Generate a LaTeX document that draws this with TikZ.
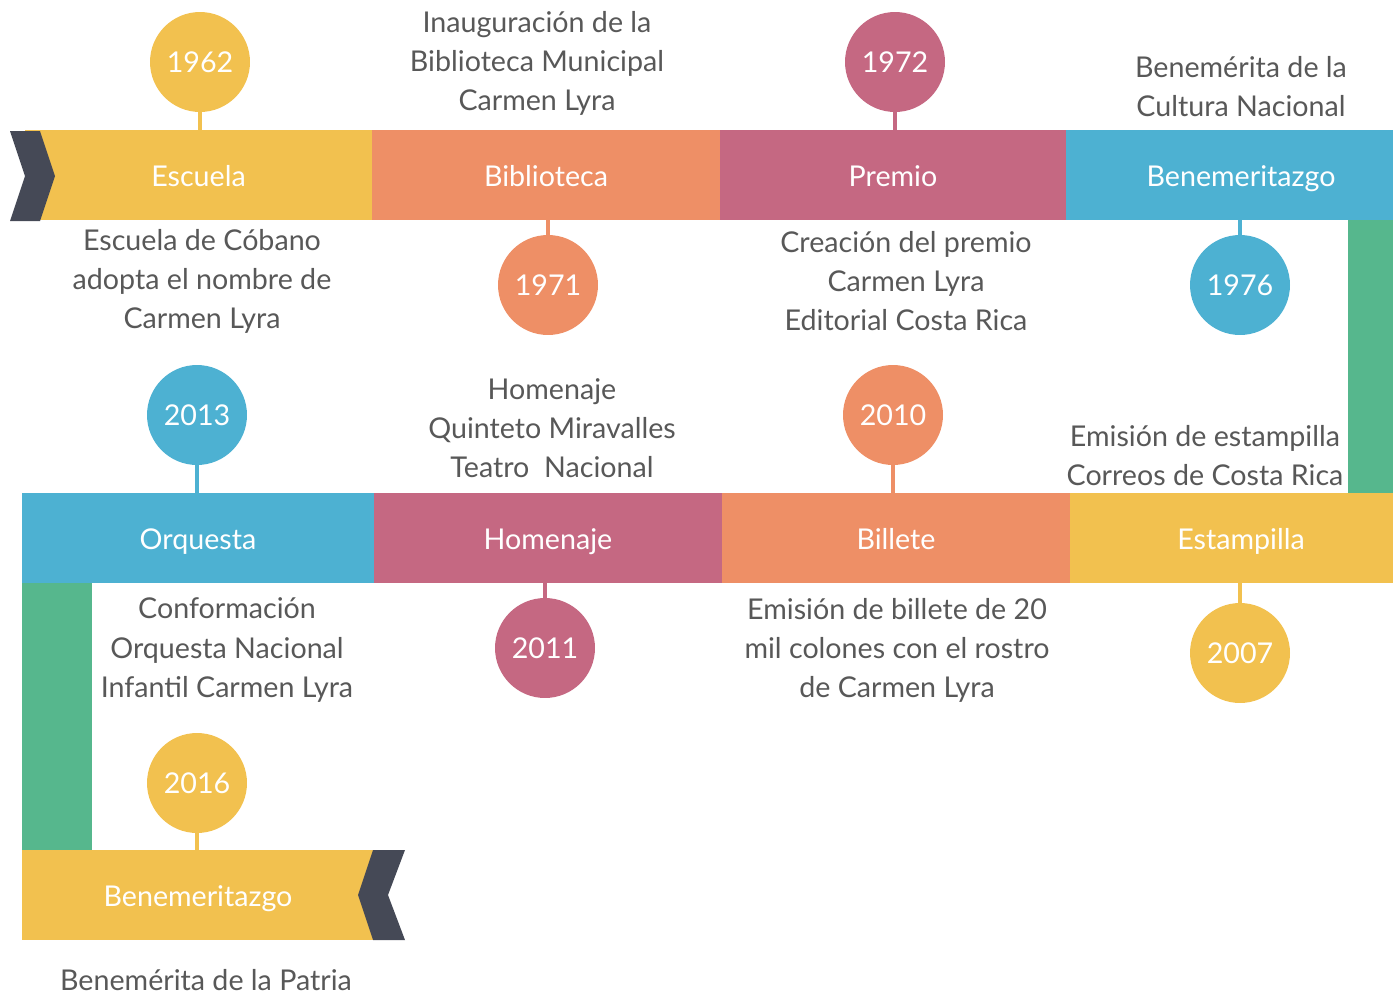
\documentclass[tikz,border=0pt]{standalone}
\usepackage{fontspec}
\setmainfont{Lato}
\definecolor{amarillo}{HTML}{F2C14F}
\definecolor{naranja}{HTML}{EE8F66}
\definecolor{rosa}{HTML}{C56882}
\definecolor{celeste}{HTML}{4DB1D2}
\definecolor{verde}{HTML}{56B78D}
\definecolor{oscuro}{HTML}{454956}
\definecolor{texto}{HTML}{585858}
\tikzset{
  banda/.style={rectangle, inner sep=0pt, minimum height=1.8cm, text=white,
    text height=13.5pt, text depth=0pt, font=\fontsize{16.3}{19}\selectfont},
  anio/.style={circle, inner sep=0pt, minimum size=2cm, text=white,
    text height=11.5pt, text depth=0pt, font=\fontsize{16.3}{19}\selectfont},
  nota/.style={align=center, text=texto, inner sep=0pt,
    font=\fontsize{16.3}{22.2}\selectfont},
  tallo/.style={line width=2.8pt}
}
\begin{document}
\begin{tikzpicture}[x=0.02cm,y=-0.02cm]
\useasboundingbox (0,0) rectangle (1393,994);
\clip (0,0) rectangle (1393,994);
% barras verdes
\fill[verde] (1348,215) rectangle (1393,498);
\fill[verde] (22,578) rectangle (92,855);
% primera fila
\node[banda, fill=amarillo, minimum width=6.94cm] (escuela) at (198.5,175) {Escuela};
\node[banda, fill=naranja, minimum width=6.96cm] (biblioteca) at (546,175) {Biblioteca};
\node[banda, fill=rosa, minimum width=6.92cm] (premio) at (893,175) {Premio};
\node[banda, fill=celeste, minimum width=7cm] (benem) at (1241,175) {Benemeritazgo};
\fill[oscuro] (10,131) -- (40,131) -- (55,176) -- (40,221) -- (10,221) -- (25,176) -- cycle;
% segunda fila
\node[banda, fill=celeste, minimum width=7.04cm] (orquesta) at (198,538) {Orquesta};
\node[banda, fill=rosa, minimum width=6.96cm] (homenaje) at (548,538) {Homenaje};
\node[banda, fill=naranja, minimum width=6.96cm] (billete) at (896,538) {Billete};
\node[banda, fill=amarillo, minimum width=6.84cm] (estampilla) at (1241,538) {Estampilla};
% tercera fila
\node[banda, fill=amarillo, minimum width=7.04cm] (patria) at (198,895) {Benemeritazgo};
\fill[oscuro] (373,850) -- (405,850) -- (388,895) -- (405,940) -- (373,940) -- (358,895) -- cycle;
% anios
\node[anio, fill=amarillo] (a1962) at (200,62) {1962};
\node[anio, fill=naranja] (a1971) at (548,285) {1971};
\node[anio, fill=rosa] (a1972) at (895,62) {1972};
\node[anio, fill=celeste] (a1976) at (1240,285) {1976};
\node[anio, fill=celeste] (a2013) at (197,415) {2013};
\node[anio, fill=rosa] (a2011) at (545,648) {2011};
\node[anio, fill=naranja] (a2010) at (893,415) {2010};
\node[anio, fill=amarillo] (a2007) at (1240,653) {2007};
\node[anio, fill=amarillo] (a2016) at (197,783) {2016};
\draw[tallo, amarillo] (a1962.south) -- (a1962.south |- escuela.north);
\draw[tallo, naranja] (a1971.north) -- (a1971.north |- biblioteca.south);
\draw[tallo, rosa] (a1972.south) -- (a1972.south |- premio.north);
\draw[tallo, celeste] (a1976.north) -- (a1976.north |- benem.south);
\draw[tallo, celeste] (a2013.south) -- (a2013.south |- orquesta.north);
\draw[tallo, rosa] (a2011.north) -- (a2011.north |- homenaje.south);
\draw[tallo, naranja] (a2010.south) -- (a2010.south |- billete.north);
\draw[tallo, amarillo] (a2007.north) -- (a2007.north |- estampilla.south);
\draw[tallo, amarillo] (a2016.south) -- (a2016.south |- patria.north);
% textos
\node[nota] (t1) at (537,63) {Inauguración de la\\Biblioteca Municipal\\Carmen Lyra};
\node[nota] (t2) at (1241,87) {Benemérita de la\\Cultura Nacional};
\node[nota] (t3) at (202,281) {Escuela de Cóbano\\adopta el nombre de\\Carmen Lyra};
\node[nota] (t4) at (906,281) {Creación del premio\\Carmen Lyra\\Editorial Costa Rica};
\node[nota] (t5) at (552,428) {Homenaje\\Quinteto Miravalles\\Teatro\ \ Nacional};
\node[nota] (t6) at (1205,456) {Emisión de estampilla\\Correos de Costa Rica};
\node[nota] (t7) at (227,650) {Conformación\\Orquesta Nacional\\Infantil Carmen Lyra};
\node[nota] (t8) at (897,650) {Emisión de billete de 20\\mil colones con el rostro\\de Carmen Lyra};
\node[nota] (t9) at (206,980) {Benemérita de la Patria};
\end{tikzpicture}
\end{document}
